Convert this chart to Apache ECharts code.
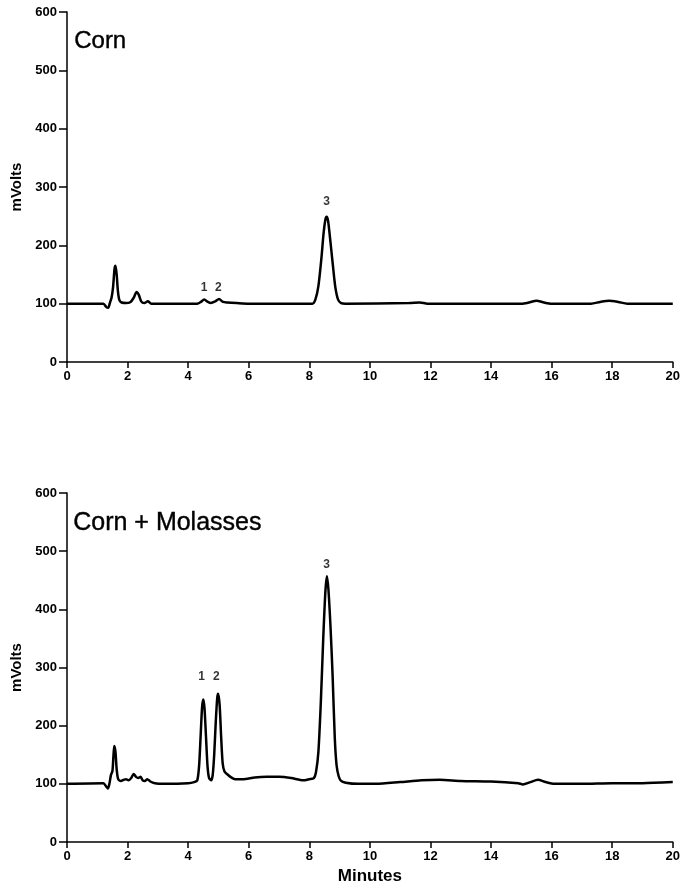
<!DOCTYPE html>
<html>
<head>
<meta charset="utf-8">
<script src="https://cdn.jsdelivr.net/npm/echarts@6/dist/echarts.min.js"></script>
<style>
  html, body { margin: 0; padding: 0; background: #fff; }
  #main { width: 683px; height: 886px; }
</style>
</head>
<body>
<div id="main"></div>
<script>
// 时间轴 / 刻度
var xTicks = [0, 2, 4, 6, 8, 10, 12, 14, 16, 18, 20];
var yTicks = [0, 100, 200, 300, 400, 500, 600];

// Corn 色谱（分钟, mV）
var cornTime = [0, 1.2, 1.3, 1.36, 1.42, 1.47, 1.52, 1.57, 1.6, 1.64, 1.68, 1.73, 1.8, 1.95, 2.1, 2.2, 2.3, 2.37, 2.45, 2.55, 2.67, 2.78, 3.0,
  4.3, 4.42, 4.53, 4.65, 4.75, 4.9, 5.02, 5.15, 5.3, 5.6, 6.0,
  8.1, 8.2, 8.3, 8.4, 8.47, 8.53, 8.57, 8.62, 8.7, 8.78, 8.86, 8.95, 9.05, 9.2,
  11.3, 11.65, 11.9, 15.0, 15.25, 15.5, 15.75, 16.0, 17.3, 17.6, 17.9, 18.2, 18.5, 20];
var cornMv = [100, 100, 94, 93, 102, 110, 128, 160, 165, 150, 122, 106, 102, 101, 103, 110, 120, 115, 104, 101, 104, 100, 100,
  100, 103, 107, 103, 101, 104, 108, 103, 102, 101, 100,
  100, 107, 130, 178, 220, 244, 249, 242, 205, 165, 128, 107, 101, 100,
  101, 102, 100, 100, 102, 105, 102, 100, 100, 103, 105, 103, 100, 100];

// Corn + Molasses 色谱
var mixTime = [0, 1.2, 1.3, 1.35, 1.4, 1.45, 1.5, 1.53, 1.56, 1.6, 1.64, 1.69, 1.78, 1.88, 1.95, 2.03, 2.12, 2.2, 2.28, 2.35, 2.43, 2.5, 2.57, 2.65, 2.75, 2.9, 3.2,
  4.0, 4.2, 4.3, 4.36, 4.41, 4.46, 4.5, 4.54, 4.59, 4.64, 4.69, 4.76, 4.81, 4.86, 4.91, 4.96, 4.99, 5.04, 5.09, 5.14, 5.2, 5.3, 5.42, 5.55,
  5.8, 6.2, 6.6, 7.0, 7.4, 7.8, 8.0, 8.15, 8.22, 8.3, 8.38, 8.46, 8.53, 8.58, 8.63, 8.7, 8.77, 8.84, 8.9, 8.97, 9.05, 9.2, 9.6,
  10.2, 11, 11.7, 12.3, 13, 14, 14.9, 15.05, 15.3, 15.55, 15.8, 16.1, 17, 18, 19, 20];
var mixMv = [100, 101, 95, 92, 100, 115, 122, 145, 165, 155, 125, 108, 105, 107, 108, 106, 110, 117, 112, 110, 112, 106, 105, 108, 104, 101, 100,
  101, 103, 106, 130, 180, 232, 245, 230, 180, 130, 110, 106, 115, 150, 205, 248, 255, 235, 180, 135, 121, 116, 111, 108,
  108, 111, 112, 112, 110, 106, 108, 110, 120, 155, 240, 350, 430, 457, 435, 370, 285, 180, 132, 113, 105, 102, 100,
  100, 103, 106, 107, 105, 104, 101, 99, 103, 107, 103, 100, 100, 101, 101, 103];

// 峰标号（位置为数据坐标）
var cornPeakNames = ['1', '2', '3'];
var cornPeakTime = [4.53, 5.0, 8.57];
var cornPeakMv = [128, 128, 274];
var mixPeakNames = ['1', '2', '3'];
var mixPeakTime = [4.44, 4.93, 8.57];
var mixPeakMv = [284, 284, 476];

function zip(a, b) {
  return a.map(function (v, i) { return [v, b[i]]; });
}
function peakData(names, t, v) {
  return names.map(function (n, i) { return { name: n, value: [t[i], v[i]] }; });
}

var tickFont = { color: '#000', fontFamily: 'Liberation Sans', fontWeight: 'bold', fontSize: 13 };

function makeX(idx, withName) {
  var ax = {
    type: 'value', gridIndex: idx, min: 0, max: 20, interval: 2,
    axisLine: { lineStyle: { color: '#000', width: 1.5 } },
    axisTick: { show: true, length: 6, lineStyle: { color: '#000', width: 1.5 } },
    axisLabel: Object.assign({ margin: 8 }, tickFont),
    splitLine: { show: false }
  };
  if (withName) {
    ax.name = 'Minutes';
    ax.nameLocation = 'middle';
    ax.nameGap = 26;
    ax.nameTextStyle = { color: '#000', fontFamily: 'Liberation Sans', fontWeight: 'bold', fontSize: 17 };
  }
  return ax;
}
function makeY(idx) {
  return {
    type: 'value', gridIndex: idx, min: 0, max: 600, interval: 100,
    name: 'mVolts', nameLocation: 'middle', nameGap: 42, nameRotate: 90,
    nameTextStyle: { color: '#000', fontFamily: 'Liberation Sans', fontWeight: 'bold', fontSize: 15 },
    axisLine: { show: true, lineStyle: { color: '#000', width: 1.5 } },
    axisTick: { show: true, length: 8, lineStyle: { color: '#000', width: 1.5 } },
    axisLabel: Object.assign({ margin: 10 }, tickFont),
    splitLine: { show: false }
  };
}

var lineStyle = { color: '#000', width: 2.5 };
var peakLabel = { show: true, position: 'inside', formatter: '{b}', color: '#000', fontFamily: 'Liberation Sans', fontWeight: 'bold', fontSize: 12 };

var myChart = echarts.init(document.getElementById('main'), null, { renderer: 'canvas' });
myChart.setOption({
  backgroundColor: '#ffffff',
  animation: false,
  grid: [
    { left: 67, top: 12, width: 609, height: 350 },
    { left: 67, top: 493, width: 609, height: 350 }
  ],
  xAxis: [makeX(0, false), makeX(1, true)],
  yAxis: [makeY(0), makeY(1)],
  graphic: [
    { type: 'text', left: 74, top: 29, style: { text: 'Corn', fill: '#000', stroke: '#000', lineWidth: 0.4, font: '24px "Liberation Sans"' } },
    { type: 'text', left: 73, top: 510, style: { text: 'Corn + Molasses', fill: '#000', stroke: '#000', lineWidth: 0.4, font: '25px "Liberation Sans"' } }
  ],
  series: [
    {
      type: 'line', xAxisIndex: 0, yAxisIndex: 0, data: zip(cornTime, cornMv),
      showSymbol: false, smooth: 0.25, lineStyle: lineStyle
    },
    {
      type: 'line', xAxisIndex: 1, yAxisIndex: 1, data: zip(mixTime, mixMv),
      showSymbol: false, smooth: 0.25, lineStyle: lineStyle
    },
    {
      type: 'scatter', xAxisIndex: 0, yAxisIndex: 0, symbolSize: 0,
      data: peakData(cornPeakNames, cornPeakTime, cornPeakMv), label: peakLabel
    },
    {
      type: 'scatter', xAxisIndex: 1, yAxisIndex: 1, symbolSize: 0,
      data: peakData(mixPeakNames, mixPeakTime, mixPeakMv), label: peakLabel
    }
  ]
});
</script>
</body>
</html>
